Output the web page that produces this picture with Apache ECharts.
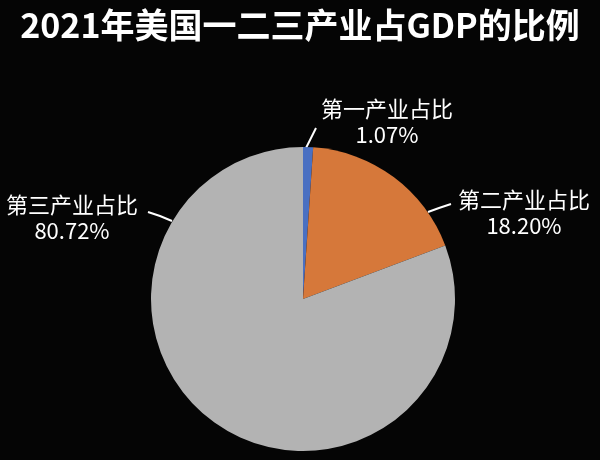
<!DOCTYPE html>
<html>
<head>
<meta charset="utf-8">
<script src="https://cdn.jsdelivr.net/npm/echarts@6/dist/echarts.min.js"></script>
<style>
  html, body { margin: 0; padding: 0; background: #050505; }
  #chart { width: 600px; height: 460px; }
</style>
</head>
<body>
<div id="chart"></div>
<script>
// 数据
const categories = ["第一产业占比", "第二产业占比", "第三产业占比"];
const shares = [1.07, 18.2, 80.72];
const colors = ["#4a70c2", "#d6783a", "#b3b3b3"];

// 标签块中心位置 + 引导线（起点在饼边缘，终点靠近文字）
const labelSpots = [
  { x: 387, y: 122, line: [[306, 148], [311, 138], [316, 128]] },
  { x: 524, y: 213, line: [[428, 212], [439, 208], [451, 204]] },
  { x: 72, y: 218, line: [[172, 221], [160, 216], [148, 212]] }
];

const mychart = echarts.init(document.getElementById("chart"));
mychart.setOption({
  backgroundColor: "#050505",
  title: {
    text: "2021年美国一二三产业占GDP的比例",
    left: "center",
    top: 3,
    textStyle: {
      color: "#ffffff",
      fontSize: 34,
      fontWeight: "bold",
      fontFamily: "Noto Sans CJK SC"
    }
  },
  series: [
    {
      type: "pie",
      center: [303, 299],
      radius: 152,
      startAngle: 90,
      clockwise: true,
      avoidLabelOverlap: false,
      data: categories.map((name, i) => ({
        name,
        value: shares[i],
        itemStyle: { color: colors[i] }
      })),
      label: {
        show: true,
        color: "#ffffff",
        fontSize: 22,
        lineHeight: 26,
        fontFamily: "Noto Sans CJK SC",
        align: "center",
        formatter: (p) => p.name + "\n" + p.value.toFixed(2) + "%"
      },
      labelLine: {
        show: true,
        length: 12,
        length2: 8,
        lineStyle: { color: "#ffffff", width: 2 }
      },
      labelLayout: (params) => {
        const spot = labelSpots[params.dataIndex];
        return {
          x: spot.x,
          y: spot.y,
          align: "center",
          verticalAlign: "middle",
          labelLinePoints: spot.line
        };
      }
    }
  ]
});
</script>
</body>
</html>
